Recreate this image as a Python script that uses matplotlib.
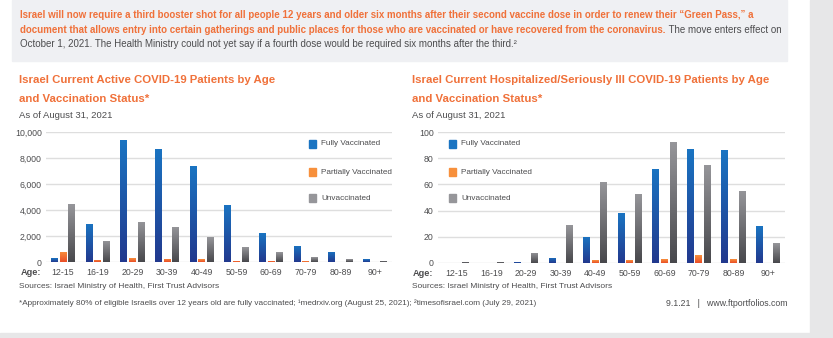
import numpy as np
import matplotlib.pyplot as plt
from matplotlib.colors import LinearSegmentedColormap
from matplotlib.patches import Rectangle

plt.rcParams['font.family'] = ['Liberation Sans', 'DejaVu Sans']

ages = ['12-15', '16-19', '20-29', '30-39', '40-49', '50-59', '60-69', '70-79', '80-89', '90+']
statuses = ['Fully Vaccinated', 'Partially Vaccinated', 'Unvaccinated']

# active patients
active_full = [300, 2950, 9400, 8700, 7350, 4400, 2200, 1250, 800, 200]
active_partial = [800, 180, 300, 250, 200, 100, 100, 50, 30, 30]
active_unvax = [4450, 1650, 3100, 2700, 1900, 1150, 750, 350, 200, 100]

# hospitalized / seriously ill patients
hosp_full = [0, 0, 1, 4, 20, 38, 72, 87, 86, 28]
hosp_partial = [0, 0, 0, 0, 2, 2, 3, 6, 3, 0]
hosp_unvax = [1, 1, 8, 29, 62, 53, 92, 75, 55, 15]

orange = '#f0713a'
text_gray = '#4d4d4f'
grid_gray = '#dedede'

# top / bottom colours of each bar gradient
bar_colors = {
    'Fully Vaccinated': ('#1a74c2', '#22398e'),
    'Partially Vaccinated': ('#f7903c', '#ea4e27'),
    'Unvaccinated': ('#96969a', '#48484c'),
}

W, H = 833, 338
fig = plt.figure(figsize=(W / 100, H / 100), dpi=100)
renderer = fig.canvas.get_renderer()


def fx(px):
    return px / W


def fy(py):
    return 1 - py / H


def text_width(s, size, weight='normal'):
    t = fig.text(0, 0, s, fontsize=size, weight=weight)
    w = t.get_window_extent(renderer).width
    t.remove()
    return w


def fit_size(segments, target):
    # font size that makes the joined segments span `target` pixels
    size = 8.0
    for _ in range(3):
        w = sum(text_width(s, size, wt) for s, wt in segments)
        size *= target / w
    return size


# page background pieces
fig.patches.append(Rectangle((fx(810), 0), 1, 1, transform=fig.transFigure,
                             color='#e7e7e8', zorder=0))
fig.patches.append(Rectangle((0, 0), 1, 1 - 333 / H, transform=fig.transFigure,
                             color='#e7e7e8', zorder=0))
fig.patches.append(Rectangle((fx(12), fy(61)), fx(787 - 12), 61 / H,
                             transform=fig.transFigure, color='#eff0f3', zorder=0))

# header paragraph
line1 = ("Israel will now require a third booster shot for all people 12 years and older six months "
         "after their second vaccine dose in order to renew their \u201cGreen Pass,\u201d a")
line2a = ("document that allows entry into certain gatherings and public places for those who are "
          "vaccinated or have recovered from the coronavirus.")
line2b = " The move enters effect on"
line3 = ("October 1, 2021. The Health Ministry could not yet say if a fourth dose would be required "
         "six months after the third.\u00b2")

hdr = min(fit_size([(line1, 'bold')], 760),
          fit_size([(line2a, 'bold'), (line2b, 'normal')], 760))
fig.text(fx(20), fy(15), line1, color=orange, fontsize=hdr, weight='bold', va='center')
fig.text(fx(20), fy(30), line2a, color=orange, fontsize=hdr, weight='bold', va='center')
x2 = 20 + text_width(line2a, hdr, 'bold')
fig.text(fx(x2), fy(30), line2b, color=text_gray, fontsize=hdr, va='center')
fig.text(fx(20), fy(44), line3, color=text_gray, fontsize=hdr, va='center')


def gradient_bar(ax, x, h, width, colors):
    cmap = LinearSegmentedColormap.from_list('g', [colors[1], colors[0]])
    grad = np.linspace(0, 1, 64).reshape(-1, 1)
    for xi, hi in zip(x, h):
        if hi <= 0:
            continue
        rect = ax.bar(xi, hi, width, color=colors[0], linewidth=0, zorder=3)[0]
        im = ax.imshow(grad, cmap=cmap, origin='lower', aspect='auto',
                       extent=(xi - width / 2, xi + width / 2, 0, hi), zorder=3)
        im.set_clip_path(rect)


title_size = 8.2


def draw_panel(box, text_x, series, ymax, yticks, fmt, xlim, title, legend_x):
    left, top, right, bottom = box
    ax = fig.add_axes([fx(left), fy(bottom), fx(right - left), (bottom - top) / H])
    x = np.arange(len(ages))
    width = 0.2
    for off, name, vals in zip([-0.25, 0, 0.25], statuses, series):
        gradient_bar(ax, x + off, vals, width, bar_colors[name])
    ax.set_xlim(*xlim)
    ax.set_ylim(0, ymax)
    ax.set_yticks(yticks)
    ax.set_yticklabels([fmt(v) for v in yticks])
    ax.set_xticks(x)
    ax.set_xticklabels(ages)
    ax.tick_params(length=0, labelsize=6.3, colors=text_gray, pad=4)
    ax.tick_params(axis='y', pad=3)
    ax.grid(axis='y', color=grid_gray, linewidth=1, zorder=0)
    ax.set_axisbelow(True)
    for s in ax.spines.values():
        s.set_visible(False)
    ax.patch.set_alpha(0)

    # "Age:" label in front of the category labels
    ax.text(-0.015, -0.08, 'Age:', transform=ax.transAxes, ha='right', va='center',
            fontsize=6.6, weight='bold', color=text_gray)

    # titles above
    fig.text(fx(text_x), fy(80), title[0], color=orange, fontsize=title_size, weight='bold', va='center')
    fig.text(fx(text_x), fy(99), title[1], color=orange, fontsize=title_size, weight='bold', va='center')
    fig.text(fx(text_x), fy(116), 'As of August 31, 2021', color=text_gray, fontsize=6.8, va='center')
    fig.text(fx(text_x), fy(287), 'Sources: Israel Ministry of Health, First Trust Advisors',
             color=text_gray, fontsize=6.0, va='center')

    # legend
    for i, name in enumerate(statuses):
        yy = [144, 172, 198][i]
        c = bar_colors[name]
        fig.patches.append(Rectangle((fx(legend_x), fy(yy + 4)), fx(7), 8 / H,
                                     transform=fig.transFigure, color=c[0], zorder=5))
        fig.text(fx(legend_x + 12), fy(yy), name, color=text_gray, fontsize=5.9, va='center')
    return ax


draw_panel((46, 132, 392, 262), 19,
           [active_full, active_partial, active_unvax], 10000,
           [0, 2000, 4000, 6000, 8000, 10000], lambda v: f'{v:,}',
           (-0.49, 9.49),
           ('Israel Current Active COVID-19 Patients by Age', 'and Vaccination Status*'), 309)

draw_panel((438, 132, 785, 263), 412,
           [hosp_full, hosp_partial, hosp_unvax], 100,
           [0, 20, 40, 60, 80, 100], lambda v: f'{v}',
           (-0.55, 9.49),
           ('Israel Current Hospitalized/Seriously Ill COVID-19 Patients by Age', 'and Vaccination Status*'), 449)

# footnotes
fig.text(fx(19), fy(303), "*Approximately 80% of eligible Israelis over 12 years old are fully vaccinated; "
         "\u00b9medrxiv.org (August 25, 2021); \u00b2timesofisrael.com (July 29, 2021)",
         color=text_gray, fontsize=5.9, va='center')
fig.text(fx(787), fy(303), "9.1.21   |   www.ftportfolios.com", color=text_gray,
         fontsize=6.3, va='center', ha='right')

fig.savefig('out.png', dpi=100)
